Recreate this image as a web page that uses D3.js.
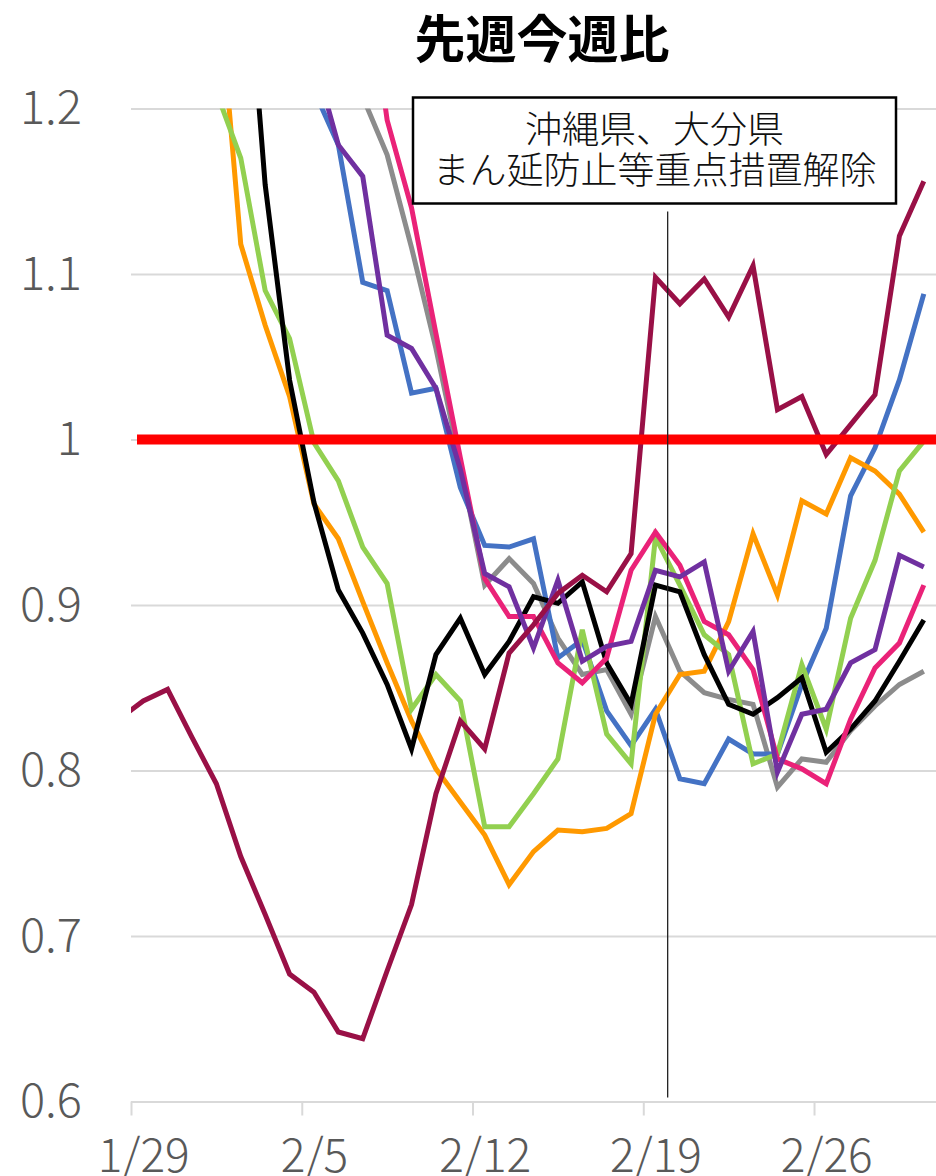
<!DOCTYPE html>
<html>
<head>
<meta charset="utf-8">
<script src="https://cdn.jsdelivr.net/npm/d3@7"></script>
<style>
  body { margin: 0; background: #fff; }
  svg { display: block; }
</style>
</head>
<body>
<div id="chart"></div>
<script>

// dates (index 0 = 1/28, only the dark red series has a value there)
var dates = ["1/28","1/29","1/30","1/31","2/1","2/2","2/3","2/4","2/5","2/6","2/7",
  "2/8","2/9","2/10","2/11","2/12","2/13","2/14","2/15","2/16","2/17","2/18",
  "2/19","2/20","2/21","2/22","2/23","2/24","2/25","2/26","2/27","2/28","3/1","3/2"];

var xTickLabels = ["1/29", "2/5", "2/12", "2/19", "2/26"];
var yTicks = [0.6, 0.7, 0.8, 0.9, 1, 1.1, 1.2];

var _ = null;
var maroon = [0.831, 0.842, 0.849, 0.820, 0.792, 0.748, 0.713, 0.677, 0.666, 0.642, 0.638,
  0.679, 0.719, 0.786, 0.830, 0.813, 0.871, 0.888, 0.907, 0.918, 0.908, 0.931,
  1.098, 1.082, 1.097, 1.074, 1.105, 1.018, 1.026, 0.991, 1.009, 1.027, 1.123, 1.156];
var black = [_, _, _, _, _, 1.34, 1.154, 1.036, 0.962, 0.909, 0.883,
  0.852, 0.813, 0.870, 0.892, 0.858, 0.878, 0.905, 0.901, 0.914, 0.865, 0.840,
  0.912, 0.908, 0.870, 0.840, 0.834, 0.844, 0.856, 0.811, 0.825, 0.842, 0.866, 0.891];
var orange = [_, _, _, _, 1.29, 1.118, 1.069, 1.026, 0.961, 0.940, 0.902,
  0.865, 0.830, 0.801, 0.781, 0.761, 0.731, 0.751, 0.764, 0.763, 0.765, 0.774,
  0.834, 0.858, 0.860, 0.890, 0.943, 0.906, 0.963, 0.955, 0.989, 0.981, 0.967, 0.944];
var green = [_, _, _, _, 1.21, 1.170, 1.090, 1.061, 0.998, 0.975, 0.935,
  0.913, 0.837, 0.858, 0.842, 0.766, 0.766, 0.786, 0.807, 0.885, 0.822, 0.804,
  0.941, 0.912, 0.882, 0.870, 0.804, 0.810, 0.864, 0.825, 0.892, 0.927, 0.981, 0.999];
var blue = [_, _, _, _, _, _, _, _, 1.211, 1.178, 1.095,
  1.090, 1.028, 1.031, 0.971, 0.936, 0.935, 0.940, 0.868, 0.879, 0.836, 0.815,
  0.837, 0.795, 0.792, 0.819, 0.810, 0.810, 0.852, 0.886, 0.966, 0.995, 1.036, 1.088];
var purple = [_, _, _, _, _, _, _, _, 1.231, 1.178, 1.159,
  1.063, 1.055, 1.031, 0.982, 0.919, 0.911, 0.874, 0.915, 0.866, 0.875, 0.878,
  0.921, 0.917, 0.926, 0.860, 0.884, 0.799, 0.834, 0.837, 0.865, 0.873, 0.930, 0.923];
var gray = [_, _, _, _, _, _, _, _, _, _, 1.207,
  1.172, 1.116, 1.055, 0.985, 0.912, 0.928, 0.913, 0.880, 0.858, 0.861, 0.834,
  0.893, 0.860, 0.847, 0.843, 0.840, 0.790, 0.807, 0.805, 0.824, 0.839, 0.852, 0.860];
var pink = [_, _, _, _, _, _, _, _, _, _, 1.30,
  1.193, 1.140, 1.064, 0.989, 0.916, 0.893, 0.893, 0.865, 0.853, 0.868, 0.921,
  0.944, 0.924, 0.890, 0.882, 0.861, 0.807, 0.801, 0.792, 0.831, 0.862, 0.877, 0.912];

var seriesList = [
  {values: gray, color: "#8c8c8c"},
  {values: blue, color: "#4472c4"},
  {values: orange, color: "#ff9900"},
  {values: green, color: "#92d050"},
  {values: black, color: "#000000"},
  {values: pink, color: "#ea2278"},
  {values: purple, color: "#7030a0"},
  {values: maroon, color: "#991046"}
];

var title = "先週今週比";
var noteLines = ["沖縄県、大分県", "まん延防止等重点措置解除"];
var noteDate = 22.5; // between 2/19 and 2/20
var refValue = 1;

var width = 936,
  height = 1176,
  margin = {top: 108.5, right: 0, bottom: 74.5, left: 131},
  innerWidth = width - margin.left - margin.right,
  innerHeight = height - margin.top - margin.bottom;

var jp = "'Noto Sans CJK JP', 'Noto Sans', sans-serif";

var xScale = d3.scaleLinear().domain([0.5, dates.length - 0.5]).range([0, innerWidth]);
var yScale = d3.scaleLinear().domain([0.6, 1.2]).range([innerHeight, 0]);

var svg = d3.select("#chart").append("svg")
  .attr("width", width)
  .attr("height", height);

svg.append("defs").append("clipPath")
  .attr("id", "plot-clip")
  .append("rect")
  .attr("width", innerWidth)
  .attr("height", innerHeight);

var g = svg.append("g")
  .attr("transform", "translate(" + margin.left + "," + margin.top + ")");

// gridlines
g.append("g")
  .attr("class", "grid")
  .call(d3.axisLeft(yScale).tickValues(yTicks).tickSize(-innerWidth).tickFormat(""))
  .call(function(s) {
    s.select(".domain").remove();
    s.selectAll("line").attr("stroke", "#d9d9d9").attr("stroke-width", 2);
  });

// y labels
g.append("g")
  .attr("class", "y axis")
  .attr("transform", "translate(-46,0)")
  .call(d3.axisLeft(yScale).tickValues(yTicks).tickSize(0).tickFormat(d3.format("")))
  .call(function(s) {
    s.select(".domain").remove();
    s.selectAll("text")
      .attr("fill", "#595959")
      .attr("font-family", jp)
      .attr("font-weight", 300)
      .attr("font-size", "47px")
      .attr("dy", "0.32em");
  });

// x tick marks on category boundaries
var boundaryTicks = xTickLabels.map(function(l) { return dates.indexOf(l) - 0.5; });
g.append("g")
  .attr("class", "x axis")
  .attr("transform", "translate(0," + innerHeight + ")")
  .call(d3.axisBottom(xScale).tickValues(boundaryTicks).tickSize(14).tickSizeOuter(0).tickFormat(""))
  .call(function(s) {
    s.select(".domain").attr("stroke", "#d9d9d9").attr("stroke-width", 2);
    s.selectAll("line").attr("stroke", "#d9d9d9").attr("stroke-width", 2);
  });

// x labels centered on the dates
var labelTicks = xTickLabels.map(function(l) { return dates.indexOf(l); });
g.append("g")
  .attr("class", "x labels")
  .attr("transform", "translate(0," + innerHeight + ")")
  .call(d3.axisBottom(xScale).tickValues(labelTicks).tickSize(0)
    .tickFormat(function(i) { return dates[i]; }))
  .call(function(s) {
    s.select(".domain").remove();
    s.selectAll("text")
      .attr("fill", "#595959")
      .attr("font-family", jp)
      .attr("font-weight", 300)
      .attr("font-size", "46px")
      .attr("dy", 0)
      .attr("y", 70);
  });

// series
var line = d3.line()
  .defined(function(d) { return d != null; })
  .x(function(d, i) { return xScale(i); })
  .y(function(d) { return yScale(d); });

var lines = g.append("g").attr("clip-path", "url(#plot-clip)");
lines.selectAll(".series")
  .data(seriesList)
  .enter().append("path")
  .attr("class", "series")
  .attr("fill", "none")
  .attr("stroke", function(d) { return d.color; })
  .attr("stroke-width", 5)
  .attr("stroke-linejoin", "miter")
  .attr("d", function(d) { return line(d.values); });

// reference line at 1
g.append("line")
  .attr("x1", 6)
  .attr("x2", innerWidth)
  .attr("y1", yScale(refValue))
  .attr("y2", yScale(refValue))
  .attr("stroke", "#ff0000")
  .attr("stroke-width", 10);

// note box
var boxX = 282, boxY = -11, boxW = 483, boxH = 106;

g.append("line")
  .attr("x1", xScale(noteDate))
  .attr("x2", xScale(noteDate))
  .attr("y1", boxY + boxH + 8)
  .attr("y2", innerHeight - 4)
  .attr("stroke", "#222")
  .attr("stroke-width", 1.3);

g.append("rect")
  .attr("x", boxX)
  .attr("y", boxY)
  .attr("width", boxW)
  .attr("height", boxH)
  .attr("fill", "#fff")
  .attr("stroke", "#000")
  .attr("stroke-width", 2.5);

var note = g.append("text")
  .attr("class", "note")
  .attr("text-anchor", "middle")
  .attr("font-family", jp)
  .attr("font-weight", 300)
  .attr("font-size", "37px")
  .attr("fill", "#111");

note.selectAll("tspan")
  .data(noteLines)
  .enter().append("tspan")
  .attr("x", boxX + boxW / 2)
  .attr("y", function(d, i) { return boxY + 32 + i * 41; })
  .attr("dy", "0.36em")
  .text(function(d) { return d; });

// title
svg.append("text")
  .attr("x", 542)
  .attr("y", 58)
  .attr("text-anchor", "middle")
  .attr("font-family", jp)
  .attr("font-weight", "bold")
  .attr("font-size", "51px")
  .attr("fill", "#000")
  .text(title);

</script>
</body>
</html>
